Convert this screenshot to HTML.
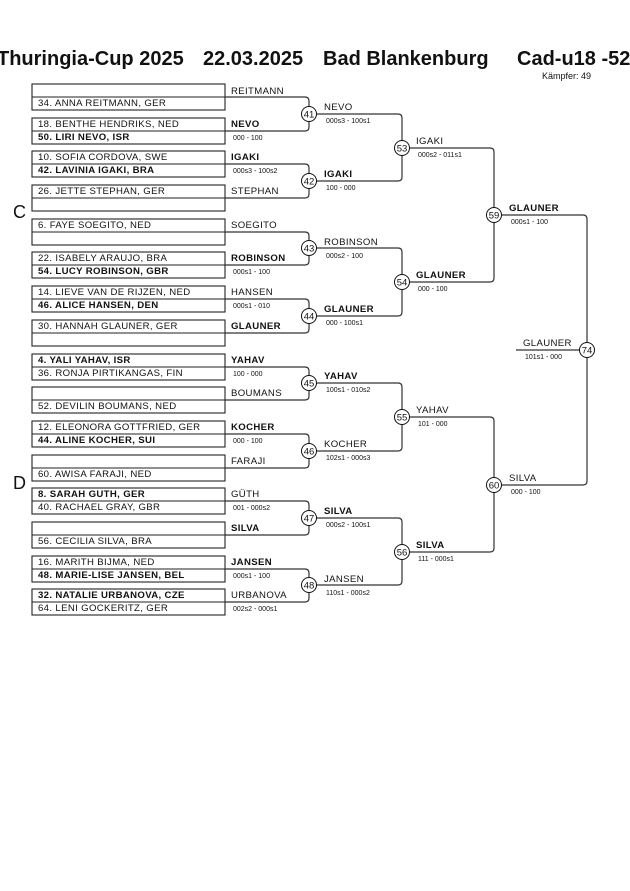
<!DOCTYPE html>
<html><head><meta charset="utf-8"><style>
html,body{margin:0;padding:0;background:#fff;}
svg{display:block;}
text{font-family:"Liberation Sans",Arial,sans-serif;fill:#111;}
.n{font-size:9.6px;letter-spacing:0.35px;}
.b{font-weight:bold;}
.s{font-size:7px;fill:#333;}
.c{font-size:9.5px;text-anchor:middle;}
.box{fill:none;stroke:#222;stroke-width:1.1;}
.ln{fill:none;stroke:#333;stroke-width:1.2;}
.cir{fill:#fff;stroke:#111;stroke-width:1;}
</style></head><body>
<svg width="630" height="891" viewBox="0 0 630 891" xmlns="http://www.w3.org/2000/svg">
<text x="-3" y="65" style="font-size:20px;font-weight:bold">Thuringia-Cup 2025</text>
<text x="203" y="65" style="font-size:20px;font-weight:bold">22.03.2025</text>
<text x="323" y="65" style="font-size:20px;font-weight:bold">Bad Blankenburg</text>
<text x="517" y="65" style="font-size:20px;font-weight:bold">Cad-u18 -52</text>
<text x="542" y="79" style="font-size:9px">Kämpfer: 49</text>
<text x="13" y="218" style="font-size:18px">C</text>
<text x="13" y="489" style="font-size:18px">D</text>

<!-- boxes -->
<g class="box">
<rect x="32" y="84" width="193" height="26"/><line x1="32" y1="97" x2="225" y2="97"/>
<rect x="32" y="118" width="193" height="26"/><line x1="32" y1="131" x2="225" y2="131"/>
<rect x="32" y="151" width="193" height="26"/><line x1="32" y1="164" x2="225" y2="164"/>
<rect x="32" y="185" width="193" height="26"/><line x1="32" y1="198" x2="225" y2="198"/>
<rect x="32" y="219" width="193" height="26"/><line x1="32" y1="232" x2="225" y2="232"/>
<rect x="32" y="252" width="193" height="26"/><line x1="32" y1="265" x2="225" y2="265"/>
<rect x="32" y="286" width="193" height="26"/><line x1="32" y1="299" x2="225" y2="299"/>
<rect x="32" y="320" width="193" height="26"/><line x1="32" y1="333" x2="225" y2="333"/>
<rect x="32" y="354" width="193" height="26"/><line x1="32" y1="367" x2="225" y2="367"/>
<rect x="32" y="387" width="193" height="26"/><line x1="32" y1="400" x2="225" y2="400"/>
<rect x="32" y="421" width="193" height="26"/><line x1="32" y1="434" x2="225" y2="434"/>
<rect x="32" y="455" width="193" height="26"/><line x1="32" y1="468" x2="225" y2="468"/>
<rect x="32" y="488" width="193" height="26"/><line x1="32" y1="501" x2="225" y2="501"/>
<rect x="32" y="522" width="193" height="26"/><line x1="32" y1="535" x2="225" y2="535"/>
<rect x="32" y="556" width="193" height="26"/><line x1="32" y1="569" x2="225" y2="569"/>
<rect x="32" y="589" width="193" height="26"/><line x1="32" y1="602" x2="225" y2="602"/>
</g>

<!-- box names -->
<g class="n">
<text x="38" y="106">34. ANNA REITMANN, GER</text>
<text x="38" y="127">18. BENTHE HENDRIKS, NED</text>
<text x="38" y="140" class="b">50. LIRI NEVO, ISR</text>
<text x="38" y="160">10. SOFIA CORDOVA, SWE</text>
<text x="38" y="173" class="b">42. LAVINIA IGAKI, BRA</text>
<text x="38" y="194">26. JETTE STEPHAN, GER</text>
<text x="38" y="228">6. FAYE SOEGITO, NED</text>
<text x="38" y="261">22. ISABELY ARAUJO, BRA</text>
<text x="38" y="274" class="b">54. LUCY ROBINSON, GBR</text>
<text x="38" y="295">14. LIEVE VAN DE RIJZEN, NED</text>
<text x="38" y="308" class="b">46. ALICE HANSEN, DEN</text>
<text x="38" y="329">30. HANNAH GLAUNER, GER</text>
<text x="38" y="363" class="b">4. YALI YAHAV, ISR</text>
<text x="38" y="376">36. RONJA PIRTIKANGAS, FIN</text>
<text x="38" y="409">52. DEVILIN BOUMANS, NED</text>
<text x="38" y="430">12. ELEONORA GOTTFRIED, GER</text>
<text x="38" y="443" class="b">44. ALINE KOCHER, SUI</text>
<text x="38" y="477">60. AWISA FARAJI, NED</text>
<text x="38" y="497" class="b">8. SARAH GUTH, GER</text>
<text x="38" y="510">40. RACHAEL GRAY, GBR</text>
<text x="38" y="544">56. CECILIA SILVA, BRA</text>
<text x="38" y="565">16. MARITH BIJMA, NED</text>
<text x="38" y="578" class="b">48. MARIE-LISE JANSEN, BEL</text>
<text x="38" y="598" class="b">32. NATALIE URBANOVA, CZE</text>
<text x="38" y="611">64. LENI GOCKERITZ, GER</text>

<text x="231" y="94">REITMANN</text>
<text x="231" y="127" class="b">NEVO</text>
<text x="231" y="160" class="b">IGAKI</text>
<text x="231" y="194">STEPHAN</text>
<text x="231" y="228">SOEGITO</text>
<text x="231" y="261" class="b">ROBINSON</text>
<text x="231" y="295">HANSEN</text>
<text x="231" y="329" class="b">GLAUNER</text>
<text x="231" y="363" class="b">YAHAV</text>
<text x="231" y="396">BOUMANS</text>
<text x="231" y="430" class="b">KOCHER</text>
<text x="231" y="464">FARAJI</text>
<text x="231" y="497">GÜTH</text>
<text x="231" y="531" class="b">SILVA</text>
<text x="231" y="565" class="b">JANSEN</text>
<text x="231" y="598">URBANOVA</text>

<text x="324" y="110">NEVO</text>
<text x="324" y="177" class="b">IGAKI</text>
<text x="324" y="245">ROBINSON</text>
<text x="324" y="312" class="b">GLAUNER</text>
<text x="324" y="379" class="b">YAHAV</text>
<text x="324" y="447">KOCHER</text>
<text x="324" y="514" class="b">SILVA</text>
<text x="324" y="582">JANSEN</text>

<text x="416" y="144">IGAKI</text>
<text x="416" y="278" class="b">GLAUNER</text>
<text x="416" y="413">YAHAV</text>
<text x="416" y="548" class="b">SILVA</text>

<text x="509" y="211" class="b">GLAUNER</text>
<text x="509" y="481">SILVA</text>

<text x="523" y="346">GLAUNER</text>
</g>

<g class="s">
<text x="233" y="140">000 - 100</text>
<text x="233" y="173">000s3 - 100s2</text>
<text x="233" y="274">000s1 - 100</text>
<text x="233" y="308">000s1 - 010</text>
<text x="233" y="376">100 - 000</text>
<text x="233" y="443">000 - 100</text>
<text x="233" y="510">001 - 000s2</text>
<text x="233" y="578">000s1 - 100</text>
<text x="233" y="611">002s2 - 000s1</text>

<text x="326" y="123">000s3 - 100s1</text>
<text x="326" y="190">100 - 000</text>
<text x="326" y="258">000s2 - 100</text>
<text x="326" y="325">000 - 100s1</text>
<text x="326" y="392">100s1 - 010s2</text>
<text x="326" y="460">102s1 - 000s3</text>
<text x="326" y="527">000s2 - 100s1</text>
<text x="326" y="595">110s1 - 000s2</text>

<text x="418" y="157">000s2 - 011s1</text>
<text x="418" y="291">000 - 100</text>
<text x="418" y="426">101 - 000</text>
<text x="418" y="561">111 - 000s1</text>

<text x="511" y="224">000s1 - 100</text>
<text x="511" y="494">000 - 100</text>

<text x="525" y="359">101s1 - 000</text>
</g>

<!-- brackets -->
<g class="ln">
<path d="M225 97H305Q309 97 309 101V127Q309 131 305 131H225"/>
<path d="M225 164H305Q309 164 309 168V194Q309 198 305 198H225"/>
<path d="M225 232H305Q309 232 309 236V261Q309 265 305 265H225"/>
<path d="M225 299H305Q309 299 309 303V329Q309 333 305 333H225"/>
<path d="M225 367H305Q309 367 309 371V396Q309 400 305 400H225"/>
<path d="M225 434H305Q309 434 309 438V464Q309 468 305 468H225"/>
<path d="M225 501H305Q309 501 309 505V531Q309 535 305 535H225"/>
<path d="M225 569H305Q309 569 309 573V598Q309 602 305 602H225"/>

<path d="M309 114H398Q402 114 402 118V177Q402 181 398 181H309"/>
<path d="M309 248H398Q402 248 402 252V312Q402 316 398 316H309"/>
<path d="M309 383H398Q402 383 402 387V447Q402 451 398 451H309"/>
<path d="M309 518H398Q402 518 402 522V581Q402 585 398 585H309"/>

<path d="M402 148H490Q494 148 494 152V278Q494 282 490 282H402"/>
<path d="M402 417H490Q494 417 494 421V548Q494 552 490 552H402"/>

<path d="M494 215H583Q587 215 587 219V481Q587 485 583 485H494"/>
<path d="M516 350H587"/>
</g>

<g>
<circle class="cir" cx="309" cy="114" r="7.5"/><text class="c" x="309" y="117.5">41</text>
<circle class="cir" cx="309" cy="181" r="7.5"/><text class="c" x="309" y="184.5">42</text>
<circle class="cir" cx="309" cy="248" r="7.5"/><text class="c" x="309" y="251.5">43</text>
<circle class="cir" cx="309" cy="316" r="7.5"/><text class="c" x="309" y="319.5">44</text>
<circle class="cir" cx="309" cy="383" r="7.5"/><text class="c" x="309" y="386.5">45</text>
<circle class="cir" cx="309" cy="451" r="7.5"/><text class="c" x="309" y="454.5">46</text>
<circle class="cir" cx="309" cy="518" r="7.5"/><text class="c" x="309" y="521.5">47</text>
<circle class="cir" cx="309" cy="585" r="7.5"/><text class="c" x="309" y="588.5">48</text>
<circle class="cir" cx="402" cy="148" r="7.5"/><text class="c" x="402" y="151.5">53</text>
<circle class="cir" cx="402" cy="282" r="7.5"/><text class="c" x="402" y="285.5">54</text>
<circle class="cir" cx="402" cy="417" r="7.5"/><text class="c" x="402" y="420.5">55</text>
<circle class="cir" cx="402" cy="552" r="7.5"/><text class="c" x="402" y="555.5">56</text>
<circle class="cir" cx="494" cy="215" r="7.5"/><text class="c" x="494" y="218.5">59</text>
<circle class="cir" cx="494" cy="485" r="7.5"/><text class="c" x="494" y="488.5">60</text>
<circle class="cir" cx="587" cy="350" r="7.5"/><text class="c" x="587" y="353.5">74</text>
</g>
</svg>
</body></html>
